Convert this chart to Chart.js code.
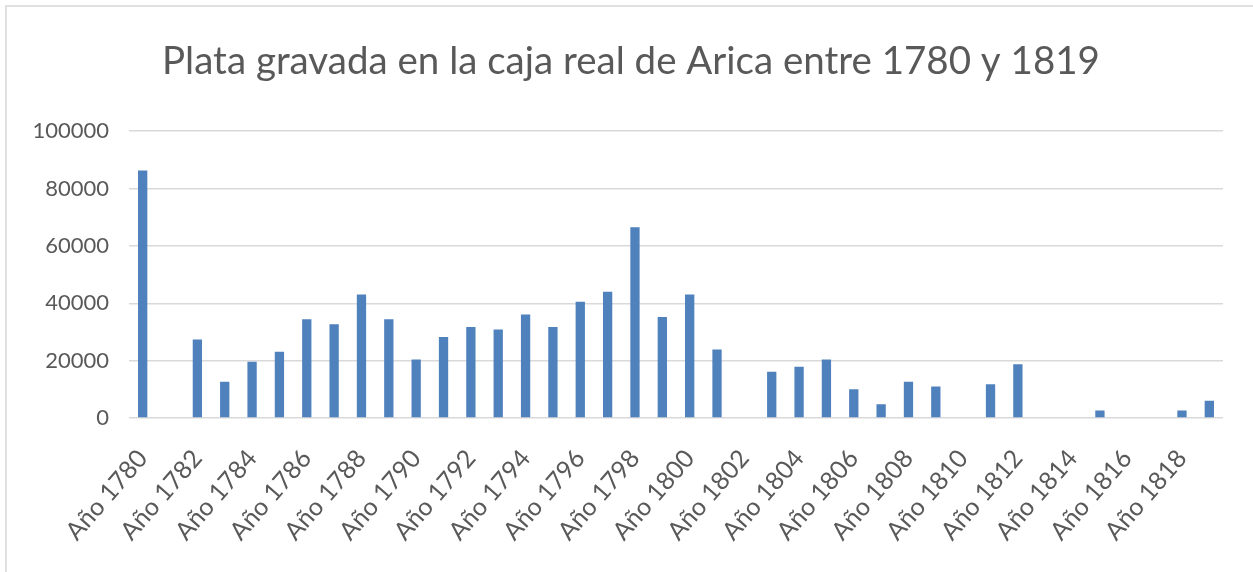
<!DOCTYPE html>
<html>
<head>
<meta charset="utf-8">
<script src="https://cdn.jsdelivr.net/npm/chart.js@4/dist/chart.umd.min.js"></script>
<style>
  html, body { margin: 0; padding: 0; background: #ffffff; }
  #wrap { position: relative; width: 1253px; height: 572px; overflow: hidden; }
  #c { position: absolute; left: 0; top: 0; }
  #frame { position: absolute; left: 5px; top: 5px; width: 1300px; height: 700px;
           border-top: 2px solid #e0e0e0; border-left: 2px solid #e0e0e0; pointer-events: none; }
</style>
</head>
<body>
<div id="wrap">
  <canvas id="c" width="1253" height="572"></canvas>
  <div id="frame"></div>
</div>
<script>
const chartTitle = "Plata gravada en la caja real de Arica entre 1780 y 1819";
const years = [];
for (let y = 1780; y <= 1819; y++) years.push(y);
const categories = years.map(y => "Año " + y);
const plataValues = [
  86300, null, 27400, 12600, 19600, 23100, 34400, 32700, 43100, 34400,
  20400, 28200, 31700, 30900, 36100, 31700, 40500, 44000, 66500, 35200,
  43100, 23900, null, 16100, 17900, 20400, 10000, 4800, 12600, 11000,
  null, 11800, 18700, null, null, 2600, null, null, 2600, 6000
];
const yTicks = [0, 20000, 40000, 60000, 80000, 100000];

const FONT = "Lato, 'Open Sans', sans-serif";
const TEXT = "#595959";

const shiftTitle = {
  id: 'shiftTitle',
  afterLayout(chart) {
    const t = chart.titleBlock;
    if (t) { t.left += 19.5; t.right += 19.5; }
  }
};

new Chart(document.getElementById('c'), {
  type: 'bar',
  plugins: [shiftTitle],
  data: {
    labels: categories,
    datasets: [{
      data: plataValues,
      backgroundColor: '#4F81BD',
      borderWidth: 0,
      barPercentage: 0.34,
      categoryPercentage: 1.0
    }]
  },
  options: {
    responsive: false,
    animation: false,
    devicePixelRatio: 1,
    layout: { padding: { left: 0, right: 30, top: 0, bottom: 0 } },
    plugins: {
      legend: { display: false },
      tooltip: { enabled: false },
      title: {
        display: true,
        text: chartTitle,
        color: TEXT,
        font: { family: FONT, size: 38.5, weight: 'normal' },
        padding: { top: 38, bottom: 47 }
      }
    },
    scales: {
      x: {
        grid: { display: false, drawTicks: false },
        border: { display: false },
        ticks: {
          autoSkip: false,
          minRotation: 49,
          maxRotation: 49,
          color: TEXT,
          padding: 26,
          font: { family: FONT, size: 25 },
          callback: function (v, i) { return i % 2 === 0 ? categories[i] : ''; }
        },
        afterFit: function (s) { s.height = 154; s.paddingLeft = 0; s.paddingRight = 0; }
      },
      y: {
        min: 0,
        max: 100000,
        afterBuildTicks: function (s) { s.ticks = yTicks.map(v => ({ value: v })); },
        grid: { color: '#d9d9d9', lineWidth: 1.5, drawTicks: false },
        border: { display: false },
        ticks: {
          color: TEXT,
          padding: 20,
          font: { family: FONT, size: 22 },
          callback: function (v) { return String(v); }
        },
        afterFit: function (s) { s.width = 129; }
      }
    }
  }
});
</script>
</body>
</html>
